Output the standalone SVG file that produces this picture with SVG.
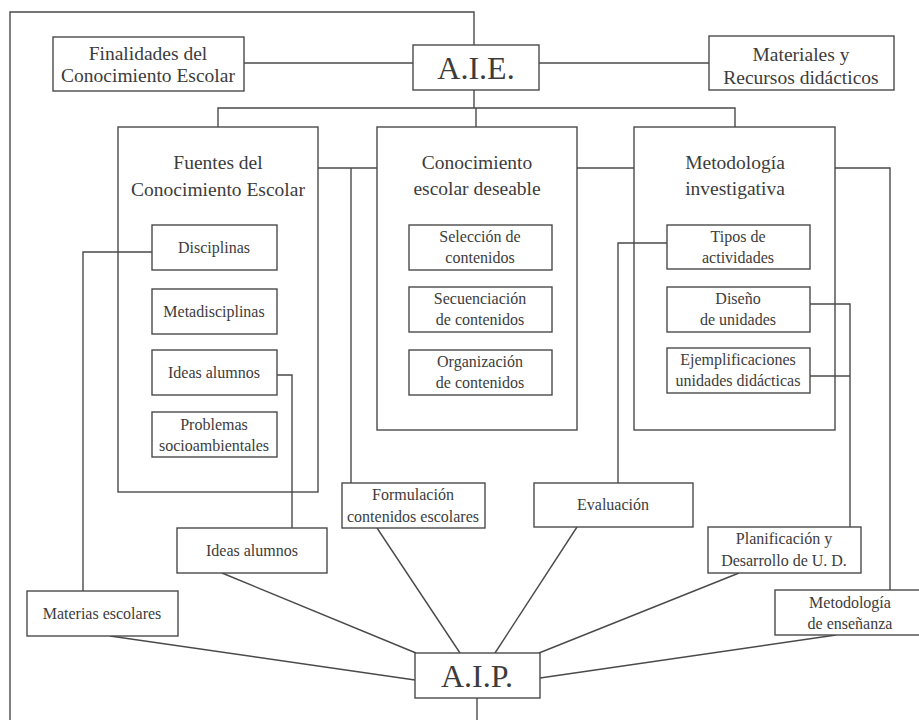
<svg xmlns="http://www.w3.org/2000/svg" width="919" height="720" viewBox="0 0 919 720">
<style>
.b{fill:#fff;stroke:#4a4a4a;stroke-width:1.4}
.p{fill:none;stroke:#4a4a4a;stroke-width:1.4}
.c{fill:none;stroke:#4a4a4a;stroke-width:1.4}
text{font-family:"Liberation Serif","Times New Roman",serif;fill:#3c3c3c;text-anchor:middle}
.t{font-size:19.5px}
.s{font-size:16px}
.x{font-size:32px}
</style>
<rect width="919" height="720" fill="#fff"/>
<g id="connectors">
<polyline class="c" points="10,720 10,12 474,12 474,45"/>
<line class="c" x1="474" y1="90" x2="474" y2="108"/>
<line class="c" x1="244" y1="63" x2="413" y2="63"/>
<line class="c" x1="539" y1="63" x2="709" y2="63"/>
<polyline class="c" points="218,127 218,108 735,108 735,127"/>
<line class="c" x1="476" y1="108" x2="476" y2="127"/>
<line class="c" x1="318" y1="168" x2="377" y2="168"/>
<line class="c" x1="351" y1="168" x2="351" y2="483"/>
<line class="c" x1="577" y1="168" x2="634" y2="168"/>
<polyline class="c" points="835,168 890,168 890,590"/>
<polyline class="c" points="152,252 83,252 83,591"/>
<polyline class="c" points="277,375 292,375 292,528"/>
<polyline class="c" points="667,243 618,243 618,483"/>
<polyline class="c" points="810,304 850,304 850,527"/>
<line class="c" x1="810" y1="376" x2="850" y2="376"/>
<line class="c" x1="110" y1="636" x2="415" y2="680"/>
<line class="c" x1="222" y1="573" x2="416" y2="653"/>
<line class="c" x1="377" y1="528" x2="460" y2="653"/>
<line class="c" x1="577" y1="527" x2="495" y2="653"/>
<line class="c" x1="739" y1="573" x2="539" y2="653"/>
<line class="c" x1="836" y1="635" x2="540" y2="678"/>
<line class="c" x1="477" y1="698" x2="477" y2="720"/>
</g>
<g id="finalidades"><rect class="b" x="53" y="37" width="191" height="54"/><text class="t" x="148" y="60">Finalidades del</text><text class="t" x="148" y="82">Conocimiento Escolar</text></g>
<g id="aie"><rect class="b" x="413" y="45" width="126" height="45"/><text class="x" x="476" y="79">A.I.E.</text></g>
<g id="materiales"><rect class="b" x="709" y="36" width="185" height="54"/><text class="t" x="801" y="61">Materiales y</text><text class="t" x="801" y="84">Recursos didácticos</text></g>
<g id="fuentes"><rect class="p" x="118" y="127" width="200" height="365"/><text class="t" x="218" y="169">Fuentes del</text><text class="t" x="218" y="196">Conocimiento Escolar</text></g>
<g id="disciplinas"><rect class="b" x="152" y="225" width="125" height="45"/><text class="s" x="214" y="253">Disciplinas</text></g>
<g id="metadisciplinas"><rect class="b" x="152" y="289" width="125" height="45"/><text class="s" x="214" y="317">Metadisciplinas</text></g>
<g id="ideas1"><rect class="b" x="152" y="350" width="125" height="45"/><text class="s" x="214" y="378">Ideas alumnos</text></g>
<g id="problemas"><rect class="b" x="152" y="412" width="125" height="45"/><text class="s" x="214" y="430">Problemas</text><text class="s" x="214" y="451">socioambientales</text></g>
<g id="conocimiento"><rect class="p" x="377" y="127" width="200" height="303"/><text class="t" x="477" y="169">Conocimiento</text><text class="t" x="477" y="195">escolar deseable</text></g>
<g id="seleccion"><rect class="b" x="409" y="225" width="143" height="45"/><text class="s" x="480" y="242">Selección de</text><text class="s" x="480" y="263">contenidos</text></g>
<g id="secuenciacion"><rect class="b" x="409" y="287" width="143" height="45"/><text class="s" x="480" y="304">Secuenciación</text><text class="s" x="480" y="325">de contenidos</text></g>
<g id="organizacion"><rect class="b" x="409" y="350" width="143" height="45"/><text class="s" x="480" y="367">Organización</text><text class="s" x="480" y="388">de contenidos</text></g>
<g id="metodologia"><rect class="p" x="634" y="127" width="201" height="303"/><text class="t" x="735" y="169">Metodología</text><text class="t" x="735" y="195">investigativa</text></g>
<g id="tipos"><rect class="b" x="667" y="225" width="143" height="44"/><text class="s" x="738" y="242">Tipos de</text><text class="s" x="738" y="263">actividades</text></g>
<g id="diseno"><rect class="b" x="667" y="287" width="143" height="45"/><text class="s" x="738" y="304">Diseño</text><text class="s" x="738" y="325">de unidades</text></g>
<g id="ejemplificaciones"><rect class="b" x="667" y="348" width="143" height="45"/><text class="s" x="738" y="365">Ejemplificaciones</text><text class="s" x="738" y="386">unidades didácticas</text></g>
<g id="formulacion"><rect class="b" x="342" y="483" width="143" height="45"/><text class="s" x="413" y="500">Formulación</text><text class="s" x="413" y="522">contenidos escolares</text></g>
<g id="evaluacion"><rect class="b" x="534" y="483" width="159" height="44"/><text class="s" x="613" y="510">Evaluación</text></g>
<g id="ideas2"><rect class="b" x="177" y="528" width="150" height="45"/><text class="s" x="252" y="556">Ideas alumnos</text></g>
<g id="planificacion"><rect class="b" x="708" y="527" width="153" height="46"/><text class="s" x="784" y="544">Planificación y</text><text class="s" x="784" y="566">Desarrollo de U. D.</text></g>
<g id="materias"><rect class="b" x="27" y="591" width="151" height="45"/><text class="s" x="102" y="619">Materias escolares</text></g>
<g id="ensenanza"><rect class="b" x="775" y="590" width="150" height="45"/><text class="s" x="850" y="608">Metodología</text><text class="s" x="850" y="629">de enseñanza</text></g>
<g id="aip"><rect class="b" x="415" y="653" width="125" height="45"/><text class="x" x="477" y="687">A.I.P.</text></g>
</svg>
